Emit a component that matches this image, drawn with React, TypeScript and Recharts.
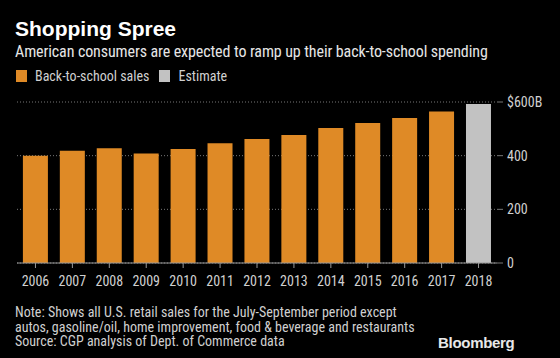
import { BarChart, Bar, Cell, XAxis, YAxis, CartesianGrid } from 'recharts';

const years = ['2006', '2007', '2008', '2009', '2010', '2011', '2012', '2013', '2014', '2015', '2016', '2017', '2018'];
const sales = [400, 418, 428, 408, 425, 446, 462, 477, 503, 522, 540, 565, 593];
const estimateYears = ['2018'];
const yTicks = [0, 200, 400, 600];

const ORANGE = '#df8a26';
const GRAY = '#c2c2c2';
const FONT = '"Liberation Sans Narrow", "Roboto Condensed", Roboto, sans-serif';

const data = years.map((year, i) => ({ year, value: sales[i] }));

const App = () => {
  return (
    <div
      style={{
        position: 'absolute',
        left: 0,
        top: 0,
        width: 560,
        height: 358,
        background: '#000',
        fontFamily: FONT,
        overflow: 'hidden'
      }}
    >
      <div style={{ position: 'absolute', left: 15, top: 17, color: '#fff', fontFamily: '"Liberation Sans", Arial, sans-serif', fontWeight: 700, fontSize: 21 }}>
        Shopping Spree
      </div>
      <div style={{ position: 'absolute', left: 15, top: 42, color: '#e6e6e6', fontSize: 16, letterSpacing: -0.1 }}>
        American consumers are expected to ramp up their back-to-school spending
      </div>
      <div style={{ position: 'absolute', left: 16, top: 68, color: '#d0d0d0', fontSize: 14, display: 'flex', alignItems: 'center' }}>
        <span style={{ display: 'inline-block', width: 11, height: 12, background: ORANGE, marginRight: 8 }} />
        <span style={{ marginRight: 10 }}>Back-to-school sales</span>
        <span style={{ display: 'inline-block', width: 11, height: 12, background: GRAY, marginRight: 8 }} />
        <span>Estimate</span>
      </div>

      <div style={{ position: 'absolute', left: 0, top: 0 }}>
        <BarChart
          width={560}
          height={358}
          data={data}
          margin={{ top: 102, right: 3, bottom: 65, left: 17 }}
          barCategoryGap="16%"
        >
          <CartesianGrid vertical={false} stroke="#777" strokeDasharray="1 2" />
          <XAxis
            dataKey="year"
            height={30}
            axisLine={{ stroke: '#999' }}
            tickLine={{ stroke: '#999' }}
            tickSize={5}
            tick={{ fill: '#d0d0d0', fontSize: 14, fontFamily: FONT, dy: 6 }}
            interval={0}
          />
          <YAxis
            orientation="right"
            width={60}
            domain={[0, 600]}
            ticks={yTicks}
            axisLine={false}
            tickLine={{ stroke: '#777' }}
            tickSize={6}
            tickMargin={4}
            tick={{ fill: '#d0d0d0', fontSize: 14, fontFamily: FONT }}
            tickFormatter={(v: number) => (v === 600 ? '$600B' : `${v}`)}
          />
          <Bar dataKey="value" isAnimationActive={false}>
            {data.map((d) => (
              <Cell key={d.year} fill={estimateYears.includes(d.year) ? GRAY : ORANGE} />
            ))}
          </Bar>
        </BarChart>
      </div>

      <div style={{ position: 'absolute', left: 15, top: 305, color: '#d0d0d0', fontSize: 14, lineHeight: '14.5px' }}>
        Note: Shows all U.S. retail sales for the July-September period except
        <br />
        autos, gasoline/oil, home improvement, food &amp; beverage and restaurants
        <br />
        Source: CGP analysis of Dept. of Commerce data
      </div>
      <div style={{ position: 'absolute', left: 438, top: 334, color: '#e8e8e8', fontFamily: '"Liberation Sans", Arial, sans-serif', fontWeight: 700, fontSize: 15, letterSpacing: -0.3 }}>
        Bloomberg
      </div>
    </div>
  );
};

export default App;
